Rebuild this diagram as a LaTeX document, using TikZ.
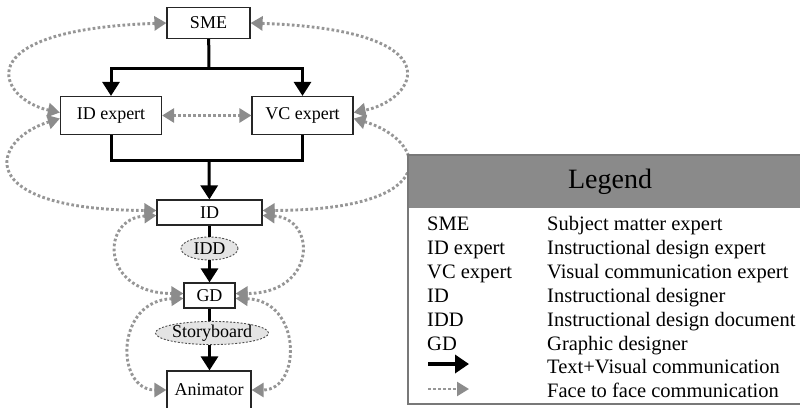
\documentclass[tikz,border=0pt]{standalone}
\usepackage{fontspec}
\setmainfont{Liberation Serif}
\usetikzlibrary{arrows.meta,shapes.geometric}
\definecolor{dotgray}{RGB}{150,150,150}
\definecolor{tipgray}{RGB}{140,140,140}
\definecolor{headgray}{RGB}{138,138,138}
\definecolor{bubble}{RGB}{228,228,228}
\definecolor{rimgray}{RGB}{120,120,120}

\begin{document}
\begin{tikzpicture}[x=1pt,y=-1pt,
  box/.style={draw=black!85,line width=1.2pt,fill=white,inner sep=0pt,
    font=\fontsize{18}{21}\selectfont},
  doc/.style={ellipse,draw=black!70,dash pattern=on 2pt off 1.6pt,line width=0.9pt,
    fill=bubble,inner sep=0pt,font=\fontsize{18}{21}\selectfont},
  flow/.style={line width=3pt,black,line join=miter},
  flowarrow/.style={flow,-{Triangle[length=14pt,width=17pt]}},
  grayhead/.tip={Triangle[length=12pt,width=14pt,color=tipgray]},
  talk/.style={dotgray,line width=2.9pt,dash pattern=on 2.7pt off 2.3pt,grayhead-grayhead},
  talkone/.style={dotgray,line width=2.9pt,dash pattern=on 2.7pt off 2.3pt,-grayhead},
  key/.style={anchor=base west,inner sep=0pt,font=\fontsize{20.5}{24}\selectfont},
]
\useasboundingbox (0,0) rectangle (800,407);
\clip (0,0) rectangle (800,407);

% --- team nodes ---
\node[box,minimum width=83pt,minimum height=31pt] (SME) at (208.5,23) {SME};
\node[box,minimum width=101pt,minimum height=38pt] (IDexp) at (111,115.5) {ID expert};
\node[box,minimum width=101pt,minimum height=38pt] (VCexp) at (302.5,115.5) {VC expert};
\node[box,minimum width=105pt,minimum height=25pt] (ID) at (209.5,212.5) {ID};
\node[doc,minimum width=57pt,minimum height=23pt] (IDD) at (209.5,248.5) {IDD};
\node[box,minimum width=51pt,minimum height=25pt] (GD) at (209.5,295.5) {GD};
\node[doc,minimum width=112pt,minimum height=22pt] (Story) at (212,333) {Storyboard};
\node[box,minimum width=84pt,minimum height=38pt] (Anim) at (209,390) {Animator};

% --- text + visual hand-offs ---
\coordinate (split) at (209,68);
\coordinate (merge) at (209,160);
\draw[flow] (SME) -- (split);
\draw[flowarrow] (split) -| (IDexp);
\draw[flowarrow] (split) -| (VCexp);
\draw[flow] (IDexp) |- (merge) -| (VCexp);
\draw[flowarrow] (merge) -- (ID);
\draw[flow] (ID) -- (IDD);
\draw[flowarrow] (IDD) -- (GD);
\draw[flow] (GD.south) -- (GD.south |- Story.north);
\draw[flowarrow] (Story.south -| GD.south) -- (GD.south |- Anim.north);

% --- face to face communication ---
\draw[talk] (IDexp) -- (VCexp);
\draw[talk] (SME.west) .. controls (-40,30) and (0,100) .. ([yshift=3pt]IDexp.west);
\draw[talk] ([yshift=-3pt]IDexp.west) .. controls (-10,140) and (-30,210) .. ([yshift=2pt]ID.west);
\draw[talk] (SME.east) .. controls (457,30) and (417,100) .. ([yshift=3pt]VCexp.east);
\draw[talk] ([yshift=-3pt]VCexp.east) .. controls (427,140) and (447,210) .. ([yshift=2pt]ID.east);
\draw[talk] ([yshift=-3pt]ID.west) .. controls (100,218) and (100,293.5) .. ([yshift=2pt]GD.west);
\draw[talk] ([yshift=-3pt]ID.east) .. controls (317,218) and (317,293.5) .. ([yshift=2pt]GD.east);
\draw[talk] ([yshift=-3pt]GD.west) .. controls (115,300) and (115,390) .. (Anim.west);
\draw[talk] ([yshift=-3pt]GD.east) .. controls (302,300) and (302,390) .. (Anim.east);

% --- legend ---
\fill[headgray] (408,155) rectangle (801,208);
\draw[rimgray,line width=1.2pt] (408,155) rectangle (801,404);
\draw[white,line width=1pt] (409,209) -- (801,209);
\node[font=\fontsize{28}{32}\selectfont,inner sep=0pt] (title) at (610,182) {Legend};

\node[key] (k1) at (427,230) {SME};
\node[key] (v1) at (547,230) {Subject matter expert};
\node[key] (k2) at (427,254) {ID expert};
\node[key] (v2) at (547,254) {Instructional design expert};
\node[key] (k3) at (427,278) {VC expert};
\node[key] (v3) at (547,278) {Visual communication expert};
\node[key] (k4) at (427,302) {ID};
\node[key] (v4) at (547,302) {Instructional designer};
\node[key] (k5) at (427,326) {IDD};
\node[key] (v5) at (547,326) {Instructional design document};
\node[key] (k6) at (427,350) {GD};
\node[key] (v6) at (547,350) {Graphic designer};
\node[key] (v7) at (547,373) {Text+Visual communication};
\node[key] (v8) at (547,397) {Face to face communication};

\coordinate (fa) at (428,364);
\coordinate (fb) at (469,364);
\draw[flow,line width=4.5pt,-{Triangle[length=14pt,width=18pt]}] (fa) -- (fb);
\coordinate (ta) at (428,389);
\coordinate (tb) at (469,389);
\draw[talkone,line width=2.4pt] (ta) -- (tb);
\end{tikzpicture}
\end{document}
